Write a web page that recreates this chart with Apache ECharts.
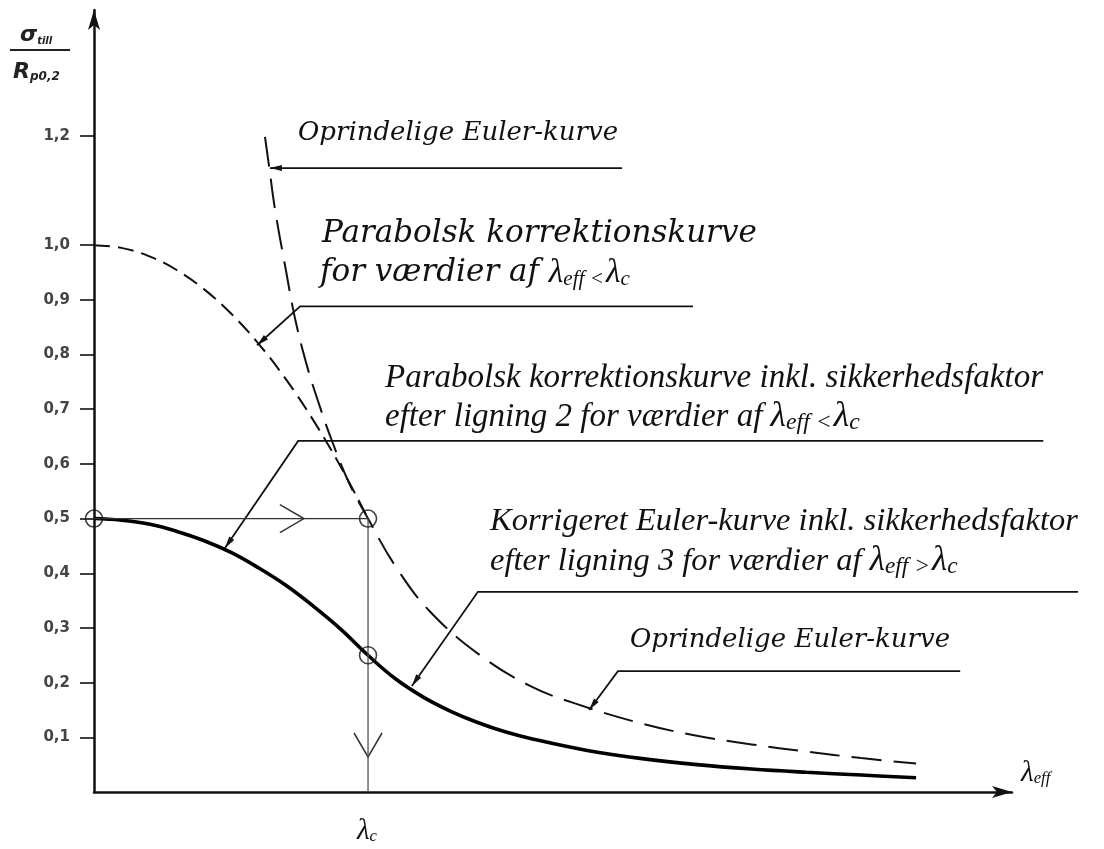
<!DOCTYPE html>
<html><head><meta charset="utf-8">
<script src="https://cdn.jsdelivr.net/npm/echarts@6/dist/echarts.min.js"></script>
<style>html,body{margin:0;padding:0;background:#fff}#c{width:1104px;height:849px}</style>
</head><body><div id="c"></div>
<script>
// ---- data (lambda_eff / lambda_c  vs  sigma_till / R_p0,2) ----
const eulerLambda = [0.624, 0.64, 0.661, 0.70, 0.734, 0.774, 0.814, 0.87, 0.93, 1.0, 1.1, 1.226, 1.409, 1.591, 1.755, 2.0, 2.2, 2.4, 2.6, 2.8, 3.0];
const eulerSigma  = [1.198, 1.14, 1.064, 0.955, 0.865, 0.785, 0.72, 0.64, 0.566, 0.5, 0.413, 0.33, 0.25, 0.194, 0.162, 0.125, 0.103, 0.087, 0.074, 0.062, 0.052];
const parabLambda = [0, 0.1, 0.2, 0.3, 0.4, 0.5, 0.6, 0.7, 0.8, 0.9, 1.0];
const parabSigma  = [1.0, 0.995, 0.98, 0.955, 0.92, 0.875, 0.82, 0.755, 0.68, 0.595, 0.5];
const corrLambda  = [0, 0.1, 0.2, 0.3, 0.4, 0.5, 0.6, 0.7, 0.8, 0.9, 1.0, 1.1, 1.2, 1.3, 1.4, 1.5, 1.6, 1.8, 2.0, 2.2, 2.4, 2.6, 2.8, 3.0];
const corrSigma   = [0.5, 0.497, 0.49, 0.477, 0.46, 0.438, 0.41, 0.378, 0.34, 0.298, 0.25, 0.207, 0.174, 0.148, 0.127, 0.11, 0.097, 0.076, 0.061, 0.05, 0.042, 0.036, 0.031, 0.026];
const yTickValues = [0.1, 0.2, 0.3, 0.4, 0.5, 0.6, 0.7, 0.8, 0.9, 1.0, 1.2];
const lambdaC = 1.0;
const sigmaC = 0.5;
const sigmaCorrC = 0.25;
const chevronH = 0.766;   // lambda of ">" on the 0,5 line
const chevronV = 0.064;   // sigma of "v" on the lambda_c line
// leader lines: tip on curve [x,y], elbow [x,y], end x (at elbow height)
const leaders = [
  {tip: [0.642, 1.141], elbow: [0.642, 1.141], endX: 1.927},
  {tip: [0.595, 0.817], elbow: [0.752, 0.888], endX: 2.186},
  {tip: [0.478, 0.446], elbow: [0.745, 0.642], endX: 3.464},
  {tip: [1.160, 0.194], elbow: [1.401, 0.366], endX: 3.591},
  {tip: [1.807, 0.150], elbow: [1.912, 0.221], endX: 3.161}
];

const zip = (a, b) => a.map((v, i) => [v, b[i]]);
const chart = echarts.init(document.getElementById('c'), null, {renderer: 'canvas'});
const INK = '#111';

chart.setOption({
  animation: false,
  backgroundColor: '#fff',
  grid: {left: 94, right: 92, top: 10, bottom: 57},
  xAxis: {
    type: 'value', min: 0, max: 3.35,
    axisLine: {show: true, onZero: false, symbol: ['none', 'arrow'], symbolSize: [9, 20], lineStyle: {color: INK, width: 2.5}},
    axisTick: {show: false}, axisLabel: {show: false}, splitLine: {show: false}
  },
  yAxis: {
    type: 'value', min: 0, max: 1.43,
    axisLine: {show: true, onZero: false, symbol: ['none', 'arrow'], symbolSize: [9, 20], lineStyle: {color: INK, width: 2.5}},
    axisTick: {show: true, length: 14, customValues: yTickValues, lineStyle: {color: INK, width: 1.6}},
    axisLabel: {show: true, customValues: yTickValues, margin: 24, fontFamily: 'DejaVu Sans', fontWeight: 'bold', fontSize: 15, color: '#444',
      formatter: v => v.toFixed(1).replace('.', ',')},
    splitLine: {show: false}
  },
  series: [
    {type: 'line', data: zip(corrLambda, corrSigma), showSymbol: false, smooth: 0.4, silent: true,
      lineStyle: {color: '#000', width: 3.6}},
    {type: 'line', data: zip(eulerLambda, eulerSigma), showSymbol: false, smooth: 0.4, silent: true,
      lineStyle: {color: INK, width: 2, type: [30, 12]}},
    {type: 'line', data: zip(parabLambda, parabSigma), showSymbol: false, smooth: 0.4, silent: true,
      lineStyle: {color: INK, width: 2, type: [16, 8]}},
    {type: 'line', data: [[0, sigmaC], [lambdaC, sigmaC]], showSymbol: false, silent: true,
      lineStyle: {color: '#333', width: 1.3}},
    {type: 'line', data: [[lambdaC, sigmaC], [lambdaC, 0]], showSymbol: false, silent: true,
      lineStyle: {color: '#555', width: 1.3}},
    {type: 'scatter', data: [[0, sigmaC], [lambdaC, sigmaC], [lambdaC, sigmaCorrC]], symbol: 'circle', symbolSize: 17, silent: true, z: 5,
      itemStyle: {color: 'rgba(255,255,255,0)', borderColor: INK, borderWidth: 1.6}}
  ]
});

const P = p => chart.convertToPixel({gridIndex: 0}, p);
const g = [];
// leader lines with arrowheads
leaders.forEach(L => {
  const t = P(L.tip), e = P(L.elbow), end = P([L.endX, L.elbow[1]]);
  g.push({type: 'polyline', silent: true, shape: {points: [t, e, end]}, style: {stroke: INK, lineWidth: 1.8, fill: null}});
  const from = (Math.abs(t[0] - e[0]) + Math.abs(t[1] - e[1]) < 1) ? end : e;
  const dx = t[0] - from[0], dy = t[1] - from[1], d = Math.hypot(dx, dy);
  const ux = dx / d, uy = dy / d, len = 12, hw = 3;
  const bx = t[0] - ux * len, by = t[1] - uy * len;
  g.push({type: 'polygon', silent: true, shape: {points: [t, [bx - uy * hw, by + ux * hw], [bx + uy * hw, by - ux * hw]]}, style: {fill: INK}});
});
// open chevrons on guide lines
const ch = P([chevronH, sigmaC]);
g.push({type: 'polyline', silent: true, shape: {points: [[ch[0] - 24, ch[1] - 14], ch, [ch[0] - 24, ch[1] + 14]]}, style: {stroke: '#333', lineWidth: 1.5, fill: null}});
const cv = P([lambdaC, chevronV]);
g.push({type: 'polyline', silent: true, shape: {points: [[cv[0] - 14, cv[1] - 24], cv, [cv[0] + 14, cv[1] - 24]]}, style: {stroke: '#333', lineWidth: 1.5, fill: null}});

// texts
const FA = 'DejaVu Serif', FB = 'Liberation Serif';
function txt(x, y, text, fam, size, align, subScale) {
  const ss = subScale || 0.62;
  return {type: 'text', x: x, y: y, silent: true, style: {
    text: text, fontFamily: fam, fontSize: size, fontStyle: 'italic', fill: INK, align: align || 'left', verticalAlign: 'middle',
    rich: {
      n: {fontFamily: fam, fontSize: size, fontStyle: 'italic', fill: INK},
      l: {fontFamily: FB, fontSize: size * 1.08, fontStyle: 'italic', fill: INK},
      s: {fontFamily: FB, fontSize: size * ss, fontStyle: 'italic', fill: INK, verticalAlign: 'bottom', padding: [0, 2, 0, 0]}
    }
  }};
}
g.push(txt(298, 133, 'Oprindelige Euler-kurve', FA, 26));
g.push(txt(322, 234, 'Parabolsk korrektionskurve', FA, 31));
g.push(txt(320, 273, '{n|for værdier af }{l|λ}{s|eff <}{l|λ}{s|c}', FA, 31, null, 0.68));
g.push(txt(385, 378, 'Parabolsk korrektionskurve inkl. sikkerhedsfaktor', FB, 33));
g.push(txt(385, 417, '{n|efter ligning 2 for værdier af }{l|λ}{s|eff <}{l|λ}{s|c}', FB, 33, null, 0.72));
g.push(txt(490, 521, 'Korrigeret Euler-kurve inkl. sikkerhedsfaktor', FB, 32.5));
g.push(txt(490, 561, '{n|efter ligning 3 for værdier af }{l|λ}{s|eff >}{l|λ}{s|c}', FB, 32.5, null, 0.72));
g.push(txt(630, 640, 'Oprindelige Euler-kurve', FA, 26));
// axis labels
g.push(txt(1021, 773, '{l|λ}{s|eff}', FB, 27));
g.push(txt(368, 831, '{l|λ}{s|c}', FB, 27, 'center'));
// y title fraction
g.push({type: 'text', x: 20, y: 35, silent: true, style: {text: '{a|σ}{b|till}', verticalAlign: 'middle',
  rich: {a: {fontFamily: 'DejaVu Sans', fontStyle: 'italic', fontWeight: 'bold', fontSize: 22, fill: '#222'},
         b: {fontFamily: 'DejaVu Sans', fontStyle: 'italic', fontWeight: 'bold', fontSize: 10, fill: '#222', verticalAlign: 'bottom'}}}});
g.push({type: 'line', silent: true, shape: {x1: 10, y1: 50, x2: 70, y2: 50}, style: {stroke: '#222', lineWidth: 2}});
g.push({type: 'text', x: 13, y: 72, silent: true, style: {text: '{a|R}{b|p0,2}', verticalAlign: 'middle',
  rich: {a: {fontFamily: 'DejaVu Sans', fontStyle: 'italic', fontWeight: 'bold', fontSize: 22, fill: '#222'},
         b: {fontFamily: 'DejaVu Sans', fontStyle: 'italic', fontWeight: 'bold', fontSize: 12, fill: '#222', verticalAlign: 'bottom'}}}});

chart.setOption({graphic: g});
</script>
</body></html>
